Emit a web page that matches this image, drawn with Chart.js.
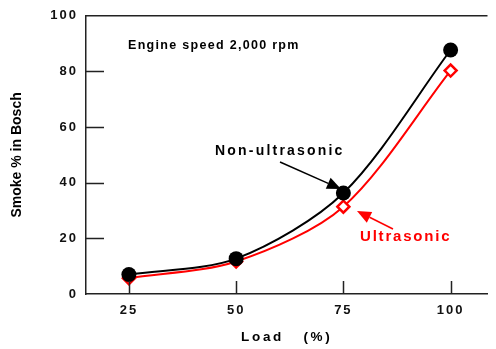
<!DOCTYPE html>
<html>
<head>
<meta charset="utf-8">
<script src="https://cdn.jsdelivr.net/npm/chart.js@4.4.1/dist/chart.umd.min.js"></script>
<style>
  html, body { margin: 0; padding: 0; background: #fff; }
  #wrap { width: 496px; height: 349px; }
</style>
</head>
<body>
<div id="wrap"><canvas id="smokeChart"></canvas></div>
<script>
// engine load (%)
const load = [25, 50, 75, 100];
// smoke, % in Bosch
const nonUltrasonic = [7.0, 12.7, 36.3, 87.7];
const ultrasonic = [5.7, 11.7, 31.4, 80.3];
const yTicks = [0, 20, 40, 60, 80, 100];

const FONT = "'Liberation Sans', Arial, sans-serif";

function points(xs, ys) {
  return xs.map((x, i) => ({ x: x, y: ys[i] }));
}

// chart.js has no letter spacing option, so wrap the scale draw calls
const spacing = {
  x: { labels: '2px', title: '2.7px' },
  y: { labels: '2px', title: '0px' }
};
const letterSpacing = {
  id: 'letterSpacing',
  beforeDraw(chart) {
    for (const id of ['x', 'y']) {
      const s = chart.scales[id];
      if (s._spaced) continue;
      s._spaced = true;
      const drawLabels = s.drawLabels, drawTitle = s.drawTitle;
      s.drawLabels = function (a) {
        this.ctx.save(); this.ctx.letterSpacing = spacing[id].labels;
        drawLabels.call(this, a); this.ctx.restore();
      };
      s.drawTitle = function (a) {
        this.ctx.save(); this.ctx.letterSpacing = spacing[id].title;
        drawTitle.call(this, a); this.ctx.restore();
      };
    }
  }
};

// top frame line, inward ticks, notes and arrows
const extras = {
  id: 'extras',
  afterDraw(chart) {
    const ctx = chart.ctx;
    const a = chart.chartArea;
    const xs = chart.scales.x, ys = chart.scales.y;

    ctx.save();
    ctx.strokeStyle = '#222';
    ctx.lineWidth = 1.5;
    ctx.beginPath();
    ctx.moveTo(a.left, a.top);
    ctx.lineTo(a.right, a.top);
    for (const v of yTicks.slice(1, -1)) {
      const py = Math.round(ys.getPixelForValue(v)) + 0.5;
      ctx.moveTo(a.left, py);
      ctx.lineTo(a.left + 18, py);
    }
    for (const v of load) {
      const px = Math.round(xs.getPixelForValue(v)) + 0.5;
      ctx.moveTo(px, a.bottom);
      ctx.lineTo(px, a.bottom - 13);
    }
    ctx.stroke();

    function text(str, x, y, size, spacingPx, color) {
      ctx.font = 'bold ' + size + 'px ' + FONT;
      ctx.letterSpacing = spacingPx + 'px';
      ctx.fillStyle = color;
      ctx.textAlign = 'left';
      ctx.textBaseline = 'alphabetic';
      ctx.fillText(str, x, y);
    }
    function arrow(x1, y1, x2, y2, color) {
      const ang = Math.atan2(y2 - y1, x2 - x1);
      const len = 14, half = 6;
      const bx = x2 - len * Math.cos(ang), by = y2 - len * Math.sin(ang);
      ctx.strokeStyle = color;
      ctx.fillStyle = color;
      ctx.lineWidth = 1.5;
      ctx.beginPath();
      ctx.moveTo(x1, y1);
      ctx.lineTo(bx, by);
      ctx.stroke();
      ctx.beginPath();
      ctx.moveTo(x2, y2);
      ctx.lineTo(bx + half * Math.sin(ang), by - half * Math.cos(ang));
      ctx.lineTo(bx - half * Math.sin(ang), by + half * Math.cos(ang));
      ctx.closePath();
      ctx.fill();
    }

    text('Engine speed 2,000 rpm', 128, 49, 12.5, 1.3, '#000');
    text('Non-ultrasonic', 215, 155, 14, 2.2, '#000');
    text('Ultrasonic', 360, 241, 15, 1.8, '#ff0000');
    arrow(280, 162, 341, 189, '#000');
    arrow(393, 229, 357, 211, '#ff0000');
    ctx.restore();
  }
};

new Chart(document.getElementById('smokeChart'), {
  type: 'line',
  data: {
    datasets: [{
      label: 'Non-ultrasonic',
      data: points(load, nonUltrasonic),
      borderColor: '#000',
      backgroundColor: '#000',
      borderWidth: 2,
      tension: 0.3,
      pointStyle: 'circle',
      pointRadius: 7.5,
      pointBorderWidth: 0,
      fill: false
    }, {
      label: 'Ultrasonic',
      data: points(load, ultrasonic),
      borderColor: '#ff0000',
      backgroundColor: '#fff',
      borderWidth: 2,
      tension: 0.3,
      pointStyle: 'rectRot',
      pointRadius: 6,
      pointBorderWidth: 2.5,
      pointBorderColor: '#ff0000',
      pointBackgroundColor: '#fff',
      fill: false
    }]
  },
  options: {
    responsive: true,
    maintainAspectRatio: false,
    animation: false,
    layout: { padding: { top: 13, left: 0, right: 0, bottom: 0 } },
    plugins: {
      legend: { display: false },
      tooltip: { enabled: false }
    },
    scales: {
      x: {
        type: 'linear',
        min: 15,
        max: 108.6,
        afterBuildTicks: (s) => { s.ticks = load.map(v => ({ value: v })); },
        afterFit: (s) => { s.height = 55; },
        grid: { display: false, drawTicks: false },
        border: { display: true, color: '#222', width: 1.5 },
        ticks: {
          color: '#111',
          padding: 9,
          maxRotation: 0,
          font: { family: FONT, size: 13, weight: 'bold' }
        },
        title: {
          display: true,
          text: 'Load   (%)',
          color: '#000',
          padding: { top: 0, bottom: 3.5 },
          font: { family: FONT, size: 13.5, weight: 'bold' }
        }
      },
      y: {
        min: 0,
        max: 100,
        afterBuildTicks: (s) => { s.ticks = yTicks.map(v => ({ value: v })); },
        afterFit: (s) => { s.width = 86; },
        grid: { display: false, drawTicks: false },
        border: { display: true, color: '#222', width: 1.5 },
        ticks: {
          color: '#111',
          padding: 8,
          font: { family: FONT, size: 13, weight: 'bold' }
        },
        title: {
          display: true,
          text: 'Smoke % in Bosch',
          color: '#000',
          padding: { top: 9, bottom: 0 },
          font: { family: FONT, size: 14, weight: 'bold' }
        }
      }
    }
  },
  plugins: [letterSpacing, extras]
});
</script>
</body>
</html>
